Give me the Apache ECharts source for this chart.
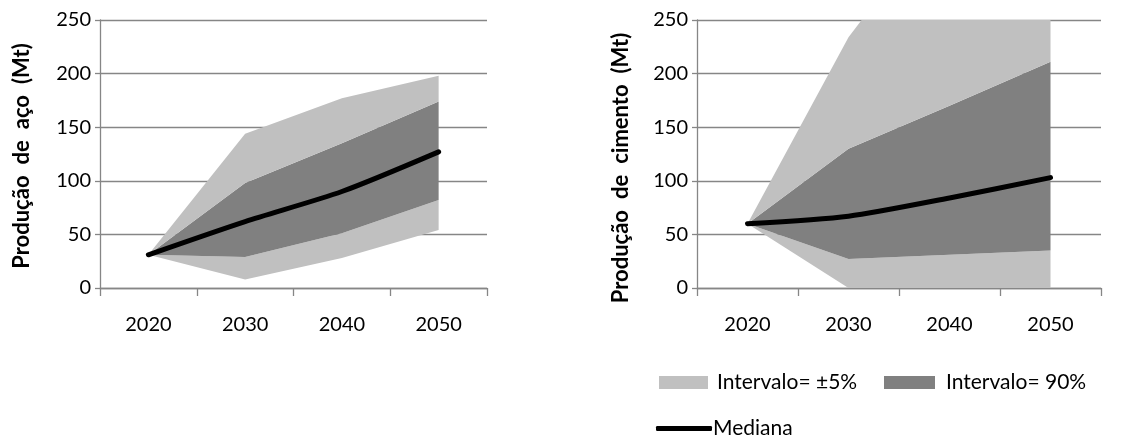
<!DOCTYPE html>
<html>
<head>
<meta charset="utf-8">
<script src="https://cdn.jsdelivr.net/npm/echarts@6/dist/echarts.min.js"></script>
<style>
  html, body { margin: 0; padding: 0; background: #fff; }
  #chart { width: 1145px; height: 439px; }
</style>
</head>
<body>
<div id="chart"></div>
<script>
// Categories (decades)
const years = ['2020', '2030', '2040', '2050'];

// Value axis range shared by both panels (Mt)
const yMin = 0;
const yMax = 250;
const yStep = 50;

// Steel production (Mt): outer band, 90% band and median
const acoOuterLow  = [31, 8, 28, 54];
const acoInnerLow  = [31, 29, 51, 82];
const acoMedian    = [31, 62, 90, 127];
const acoInnerHigh = [31, 98, 135, 174];
const acoOuterHigh = [31, 144, 177, 198];

// Cement production (Mt): upper outer band runs beyond the axis top
const cimOuterLow  = [60, 0, 0, 0];
const cimInnerLow  = [60, 27, 31, 35];
const cimMedian    = [60, 67, 84, 103];
const cimInnerHigh = [60, 130, 170, 211];
const cimOuterHigh = [60, 234, 357, 440];

// Labels
const nameOuter = 'Intervalo= ±5%';
const nameInner = 'Intervalo= 90%';
const nameMedian = 'Mediana';
const titleAco = 'Produção\u2002de\u2002aço\u2002(Mt)';
const titleCim = 'Produção\u2002de\u2002cimento\u2002(Mt)';

const LIGHT = '#c0c0c0';
const DARK = '#808080';
const GRID = '#868686';
const FONT = 'Lato, "Open Sans", sans-serif';
const FS = 20;

const diff = (a, b) => a.map((v, i) => v - b[i]);

function bandSeries(idx, low, innerLow, med, innerHigh, high) {
  const stack = 'band' + idx;
  const common = {
    type: 'line', xAxisIndex: idx, yAxisIndex: idx, stack: stack,
    symbol: 'none', lineStyle: { width: 0 }, silent: true, clip: true
  };
  return [
    Object.assign({}, common, { name: 'base' + idx, data: low }),
    Object.assign({}, common, { name: nameOuter, data: diff(innerLow, low),
      itemStyle: { color: LIGHT }, areaStyle: { color: LIGHT, opacity: 1 } }),
    Object.assign({}, common, { name: nameInner, data: diff(innerHigh, innerLow),
      itemStyle: { color: DARK }, areaStyle: { color: DARK, opacity: 1 } }),
    Object.assign({}, common, { name: nameOuter, data: diff(high, innerHigh),
      itemStyle: { color: LIGHT }, areaStyle: { color: LIGHT, opacity: 1 } }),
    {
      type: 'line', name: nameMedian, xAxisIndex: idx, yAxisIndex: idx,
      data: med, symbol: 'none', smooth: 0.25, z: 5,
      itemStyle: { color: '#000' },
      lineStyle: { color: '#000', width: 5, cap: 'round', join: 'round' }
    }
  ];
}

function xAxis(idx) {
  return {
    type: 'category', gridIndex: idx, data: years, boundaryGap: true,
    axisLine: { lineStyle: { color: GRID, width: 1.3 } },
    axisTick: { show: true, length: 8, lineStyle: { color: GRID, width: 1.3 } },
    axisLabel: { color: '#000', fontSize: FS, fontFamily: FONT, margin: 27 },
    splitLine: { show: false }
  };
}

function yAxis(idx) {
  return {
    type: 'value', gridIndex: idx, min: yMin, max: yMax, interval: yStep,
    axisLine: { show: true, lineStyle: { color: GRID, width: 1.3 } },
    axisTick: { show: true, length: 5, lineStyle: { color: GRID, width: 1.3 } },
    axisLabel: { color: '#000', fontSize: FS, fontFamily: FONT, margin: 9 },
    splitLine: { show: true, lineStyle: { color: GRID, width: 1.3 } }
  };
}

const legendText = { color: '#000', fontSize: 21, fontFamily: FONT };

const chart = echarts.init(document.getElementById('chart'), null, { renderer: 'canvas' });

chart.setOption({
  animation: false,
  backgroundColor: '#fff',
  grid: [
    { left: 100, top: 20, width: 387, height: 268 },
    { left: 697, top: 20, width: 404, height: 268 }
  ],
  xAxis: [xAxis(0), xAxis(1)],
  yAxis: [yAxis(0), yAxis(1)],
  legend: [
    {
      data: [{ name: nameOuter, icon: 'rect' }],
      left: 654, top: 367, itemWidth: 49, itemHeight: 13,
      selectedMode: false,
      textStyle: Object.assign({ padding: [0, 0, 0, 4] }, legendText)
    },
    {
      data: [{ name: nameInner, icon: 'rect' }],
      left: 879, top: 367, itemWidth: 51, itemHeight: 13,
      selectedMode: false,
      textStyle: Object.assign({ padding: [0, 0, 0, 6] }, legendText)
    },
    {
      data: [{ name: nameMedian, icon: 'roundRect' }],
      left: 651, top: 413, itemWidth: 56, itemHeight: 5,
      selectedMode: false,
      textStyle: Object.assign({ padding: [0, 0, 0, -4] }, legendText)
    }
  ],
  graphic: [
    {
      type: 'text', x: 22, y: 156, rotation: Math.PI / 2,
      style: { text: titleAco, align: 'center', verticalAlign: 'middle',
        fill: '#000', font: 'bold 22px ' + FONT }
    },
    {
      type: 'text', x: 621, y: 168, rotation: Math.PI / 2,
      style: { text: titleCim, align: 'center', verticalAlign: 'middle',
        fill: '#000', font: 'bold 22px ' + FONT }
    }
  ],
  series: [].concat(
    bandSeries(0, acoOuterLow, acoInnerLow, acoMedian, acoInnerHigh, acoOuterHigh),
    bandSeries(1, cimOuterLow, cimInnerLow, cimMedian, cimInnerHigh, cimOuterHigh)
  )
});
</script>
</body>
</html>
